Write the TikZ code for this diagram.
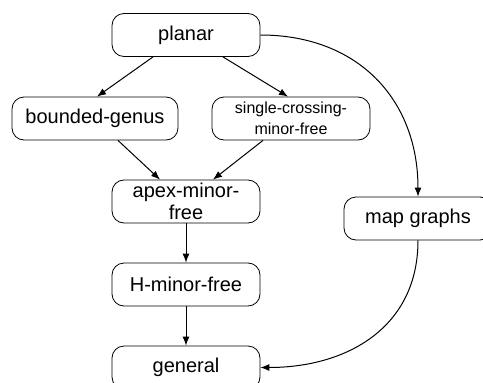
\documentclass[tikz,border=0pt]{standalone}
\usepackage{fontspec}
\setmainfont{Liberation Sans}
\usetikzlibrary{arrows.meta,positioning}

\tikzset{
  cls/.style={draw, line width=0.8pt, rounded corners=12pt,
              minimum width=148pt, minimum height=43pt, inner sep=0pt,
              align=center, font=\fontsize{20}{22.5}\selectfont},
  arr/.style={line width=1pt, -{Latex[length=9pt,width=7pt]}}
}

\begin{document}
\begin{tikzpicture}[x=1pt, y=-1pt]
\useasboundingbox (0,0) rectangle (483,383);
%
\node[cls] (planar) at (186,35) {planar};
\node[cls, minimum width=166pt] (genus) at (95,118.5) {bounded-genus};
\node[cls, minimum width=158pt, font=\fontsize{16}{21}\selectfont] (single) at (291,118.5) {single-crossing-\\minor-free};
\node[cls] (apex) at (186,201.5) {apex-minor-\\free};
\node[cls] (map) at (418,218.5) {map graphs};
\node[cls] (hminor) at (186,284.5) {H-minor-free};
\node[cls] (general) at (186,367.5) {general};
%
\draw[arr] ([xshift=-33pt]planar.south) -- ([xshift=2pt]genus.north);
\draw[arr] ([xshift=37pt]planar.south) -- ([xshift=-3pt]single.north);
\draw[arr] ([xshift=23pt]genus.south) -- ([xshift=-26pt]apex.north);
\draw[arr] ([xshift=-28pt]single.south) -- ([xshift=27pt]apex.north);
\draw[arr] (apex) -- (hminor);
\draw[arr] (hminor) -- (general);
\draw[arr] (planar.east) to[out=0, in=90, looseness=1.1] (map.north);
\draw[arr] (map.south) to[out=-90, in=0, looseness=1.1] (general.east);
%
\end{tikzpicture}
\end{document}
